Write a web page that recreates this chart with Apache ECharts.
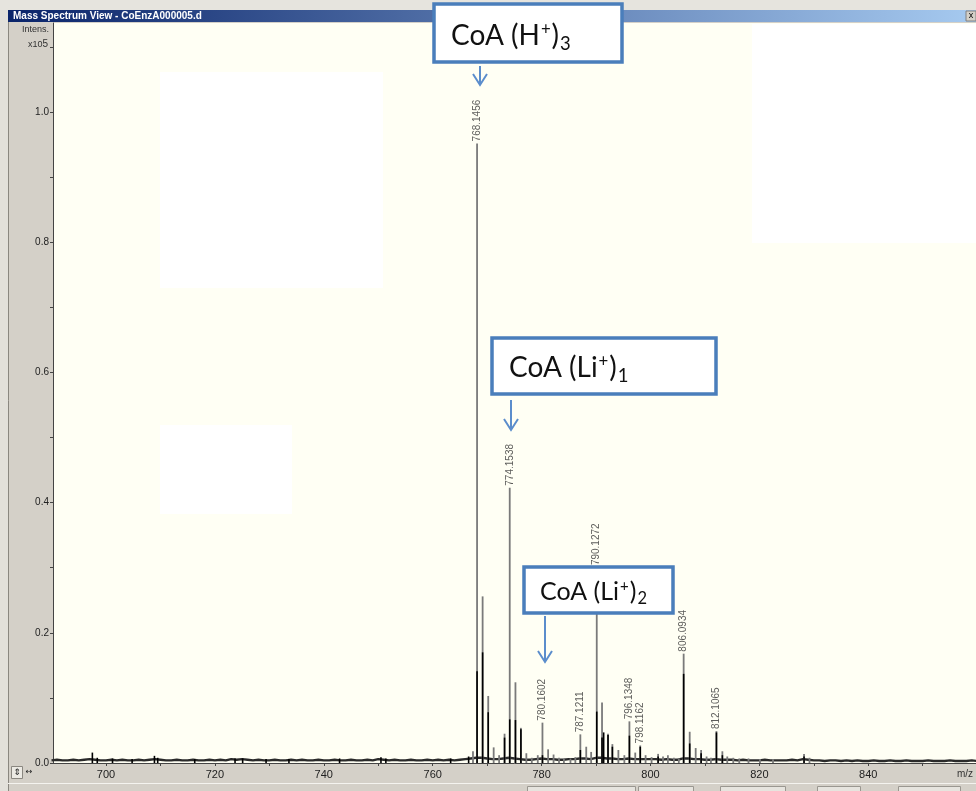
<!DOCTYPE html>
<html><head><meta charset="utf-8">
<script src="https://cdn.jsdelivr.net/npm/echarts@6/dist/echarts.min.js"></script>
<style>html,body{margin:0;padding:0;background:#D4D0C8}#c{width:976px;height:791px}</style>
</head><body><div id="c"></div>
<script>
// ---------------- data ----------------
const windowTitle = 'Mass Spectrum View - CoEnzA000005.d';
const xLabelValues = [700, 720, 740, 760, 780, 800, 820, 840];
const xTickValues = [700, 710, 720, 730, 740, 750, 760, 770, 780, 790, 800, 810, 820, 830, 840, 850];
const yLabelValues = [0, 0.2, 0.4, 0.6, 0.8, 1.0];
const yTickValues = [0, 0.1, 0.2, 0.3, 0.4, 0.5, 0.6, 0.7, 0.8, 0.9, 1.0, 1.1];

// baseline noise, one value per m/z unit starting at 690 (x10^5 intensity)
const baselineStartMz = 690;
const baselineNoise = [
  0.004,0.005,0.004,0.004,0.005,0.004,0.005,0.006,0.005,0.004,
  0.004,0.005,0.004,0.005,0.004,0.004,0.005,0.004,0.005,0.006,
  0.005,0.004,0.004,0.005,0.004,0.004,0.005,0.004,0.004,0.005,
  0.004,0.005,0.004,0.006,0.005,0.006,0.005,0.004,0.005,0.004,
  0.004,0.005,0.004,0.004,0.005,0.004,0.005,0.004,0.004,0.005,
  0.004,0.004,0.005,0.004,0.004,0.005,0.004,0.004,0.005,0.004,
  0.006,0.005,0.004,0.005,0.004,0.004,0.005,0.004,0.004,0.005,
  0.004,0.005,0.004,0.005,0.004,0.005,0.006,0.007,0.008,0.008,
  0.007,0.006,0.006,0.007,0.008,0.007,0.006,0.005,0.005,0.006,
  0.007,0.006,0.006,0.005,0.005,0.006,0.006,0.007,0.007,0.006,
  0.008,0.008,0.007,0.007,0.006,0.006,0.007,0.006,0.006,0.006,
  0.006,0.006,0.005,0.006,0.005,0.005,0.007,0.007,0.006,0.006,
  0.005,0.005,0.006,0.005,0.005,0.005,0.004,0.005,0.004,0.004,
  0.004,0.005,0.004,0.004,0.004,0.004,0.005,0.004,0.006,0.005,
  0.004,0.004,0.003,0.004,0.004,0.003,0.004,0.003,0.004,0.003,
  0.003,0.004,0.003,0.003,0.004,0.003,0.003,0.004,0.003,0.003,
  0.003,0.004,0.003,0.003,0.003,0.004,0.003,0.003,0.003,0.004,0.003
];

// profile trace (grey) peaks [m/z, intensity x10^5]
const profilePeaks = [
  [767.4,0.018],[768.15,0.952],[769.17,0.256],[770.2,0.103],[771.2,0.024],[772.2,0.012],
  [773.2,0.045],[774.15,0.423],[775.2,0.124],[776.2,0.054],[777.2,0.015],[778.2,0.008],
  [779.3,0.012],[780.16,0.062],[781.2,0.021],[782.2,0.013],[783.2,0.008],[784.1,0.006],
  [785.3,0.007],[786.2,0.009],[787.12,0.044],[788.2,0.025],[789.1,0.017],[790.13,0.301],
  [791.1,0.093],[792.2,0.045],[793.0,0.029],[794.1,0.020],[795.2,0.012],[796.13,0.064],
  [797.2,0.016],[798.12,0.027],[799.1,0.012],[800.2,0.009],[801.4,0.014],[802.3,0.010],
  [803.2,0.012],[804.3,0.008],[805.2,0.007],[806.09,0.168],[807.2,0.048],[808.3,0.023],
  [809.3,0.020],[810.3,0.010],[811.1,0.008],[812.11,0.049],[813.2,0.018],[814.1,0.010],
  [815.2,0.008],[816.3,0.007],[818.0,0.007],[820.1,0.006],[822.5,0.006],[828.2,0.014],
  [829.2,0.008]
];

// second (black) trace peaks [m/z, intensity x10^5]
const centroidPeaks = [
  [697.5,0.016],[698.4,0.008],[701.2,0.007],[704.8,0.006],[708.9,0.011],[709.5,0.008],
  [716.3,0.006],[723.7,0.007],[725.1,0.007],[729.4,0.006],[733.6,0.006],[742.9,0.007],
  [750.5,0.009],[751.4,0.007],[763.3,0.007],[766.6,0.010],
  [768.15,0.141],[769.17,0.170],[770.2,0.078],[773.2,0.039],[774.15,0.067],[775.2,0.066],
  [776.2,0.052],[780.16,0.012],[787.12,0.020],[790.13,0.079],[791.1,0.039],[791.4,0.047],
  [792.2,0.043],[793.0,0.025],[796.13,0.042],[798.12,0.025],[801.4,0.010],[806.09,0.137],
  [807.2,0.030],[809.3,0.015],[812.11,0.047],[813.2,0.012],[828.2,0.010]
];

// labelled peaks [m/z, intensity x10^5]
const labelledPeaks = [
  [768.1456,0.952],[774.1538,0.423],[780.1602,0.062],[787.1211,0.044],[790.1272,0.301],
  [796.1348,0.064],[798.1162,0.027],[806.0934,0.168],[812.1065,0.049]
];

// call-out annotations: text pieces
const annotations = [
  {main: 'CoA (H', sup: '+', close: ')', sub: '3'},
  {main: 'CoA (Li', sup: '+', close: ')', sub: '1'},
  {main: 'CoA (Li', sup: '+', close: ')', sub: '2'}
];

// ---------------- layout / styling ----------------
const calloutLayout = [
  {box: [434, 4, 188, 58], textX: 451, textY: 36, size: 28, arrowX: 480, arrowY: [66, 85]},
  {box: [492, 338, 224, 56], textX: 509, textY: 368, size: 28, arrowX: 511, arrowY: [400, 430]},
  {box: [524, 567, 149, 46], textX: 540, textY: 592, size: 25, arrowX: 545, arrowY: [616, 662]}
];

const baselineData = baselineNoise.map((v, i) => [baselineStartMz + i, v]);

function stickRenderer(color, width) {
  return function (params, api) {
    const p0 = api.coord([api.value(0), 0]);
    const p1 = api.coord([api.value(0), api.value(1)]);
    return {
      type: 'line',
      shape: {x1: p0[0], y1: p0[1], x2: p1[0], y2: p1[1]},
      style: {stroke: color, lineWidth: width}
    };
  };
}

const graphics = [];
// outer window chrome
graphics.push({type: 'rect', z: 0, shape: {x: 0, y: 0, width: 976, height: 10}, style: {fill: '#E6E4DE'}, silent: true});
graphics.push({type: 'rect', z: 0, shape: {x: 0, y: 10, width: 8, height: 781}, style: {fill: '#E2E0DA'}, silent: true});
graphics.push({type: 'line', z: 0, shape: {x1: 8.5, y1: 10, x2: 8.5, y2: 791}, style: {stroke: '#8A8780', lineWidth: 1}, silent: true});
graphics.push({type: 'rect', z: 0, shape: {x: 8, y: 10, width: 968, height: 12},
  style: {fill: new echarts.graphic.LinearGradient(0, 0, 1, 0, [{offset: 0, color: '#0A246A'}, {offset: 1, color: '#A6CAF0'}])}, silent: true});
graphics.push({type: 'text', z: 1, x: 13, y: 16.5, style: {text: windowTitle, fill: '#FFFFFF', font: 'bold 10px "Liberation Sans", Arial, sans-serif', verticalAlign: 'middle'}, silent: true});
graphics.push({type: 'rect', z: 1, shape: {x: 966, y: 11, width: 10, height: 10}, style: {fill: '#D4D0C8', stroke: '#808080', lineWidth: 1}, silent: true});
graphics.push({type: 'text', z: 2, x: 971, y: 16, style: {text: 'x', fill: '#000', font: '9px "Liberation Sans", Arial', align: 'center', verticalAlign: 'middle'}, silent: true});
graphics.push({type: 'text', z: 1, x: 22, y: 30, style: {text: 'Intens.', fill: '#333', font: '9px "Liberation Sans", Arial', verticalAlign: 'middle'}, silent: true});
graphics.push({type: 'text', z: 1, x: 28, y: 44, style: {text: '{a|x10}{b|5}', rich: {a: {fontSize: 9, fontFamily: 'Liberation Sans', fill: '#333', verticalAlign: 'bottom'}, b: {fontSize: 10, fontFamily: 'Liberation Sans', fill: '#333', verticalAlign: 'top'}}, verticalAlign: 'middle'}, silent: true});
// bottom status area
graphics.push({type: 'line', z: 0, shape: {x1: 8, y1: 783.5, x2: 976, y2: 783.5}, style: {stroke: '#F4F3EF', lineWidth: 1}, silent: true});
[[527, 108], [638, 55], [720, 65], [817, 43], [898, 62]].forEach(f => {
  graphics.push({type: 'rect', z: 0, shape: {x: f[0] + 0.5, y: 786.5, width: f[1], height: 8}, style: {fill: '#E6E4DE', stroke: '#9A9790', lineWidth: 1}, silent: true});
});
graphics.push({type: 'rect', z: 0, shape: {x: 11.5, y: 766.5, width: 11, height: 12}, style: {fill: '#ECEAE4', stroke: '#8A8780', lineWidth: 1}, silent: true});
graphics.push({type: 'text', z: 1, x: 17, y: 773, style: {text: '⇕', fill: '#222', font: '9px "DejaVu Sans"', align: 'center', verticalAlign: 'middle'}, silent: true});
graphics.push({type: 'text', z: 1, x: 29, y: 772, style: {text: '↔', fill: '#222', font: '8px "DejaVu Sans"', align: 'center', verticalAlign: 'middle'}, silent: true});
graphics.push({type: 'text', z: 1, x: 957, y: 774, style: {text: 'm/z', fill: '#333', font: '10px "Liberation Sans", Arial', verticalAlign: 'middle'}, silent: true});
// white redaction blocks on plot
[[160, 72, 223, 216], [752, 24, 224, 219], [160, 425, 132, 89]].forEach(r => {
  graphics.push({type: 'rect', z: 1, shape: {x: r[0], y: r[1], width: r[2], height: r[3]}, style: {fill: '#FFFFFF'}, silent: true});
});
// call-outs
const boxBlue = '#4A7EBB';
const arrowBlue = '#5B8DCC';
annotations.forEach((a, i) => {
  const L = calloutLayout[i];
  const s = L.size;
  graphics.push({type: 'rect', z: 100, shape: {x: L.box[0], y: L.box[1], width: L.box[2], height: L.box[3]}, style: {fill: '#FFFFFF', stroke: boxBlue, lineWidth: 3.5}, silent: true});
  graphics.push({type: 'text', z: 101, x: L.textX, y: L.textY, silent: true, style: {
    text: '{m|' + a.main + '}{p|' + a.sup + '}{m|' + a.close + '}{s|' + a.sub + '}',
    verticalAlign: 'middle',
    rich: {
      m: {fontSize: s, fontFamily: 'Lato', fill: '#111', lineHeight: s * 1.2, verticalAlign: 'middle'},
      p: {fontSize: s * 0.6, fontFamily: 'Lato', fill: '#111', lineHeight: s * 1.2, verticalAlign: 'top', padding: [2, 1, 0, 1]},
      s: {fontSize: s * 0.66, fontFamily: 'Lato', fill: '#111', lineHeight: s * 1.2, verticalAlign: 'bottom', padding: [0, 0, 0, 1]}
    }
  }});
  const x = L.arrowX, y0 = L.arrowY[0], y1 = L.arrowY[1];
  graphics.push({type: 'line', z: 100, shape: {x1: x, y1: y0, x2: x, y2: y1}, style: {stroke: arrowBlue, lineWidth: 2}, silent: true});
  graphics.push({type: 'polyline', z: 100, shape: {points: [[x - 7, y1 - 11], [x, y1], [x + 7, y1 - 11]]}, style: {stroke: arrowBlue, lineWidth: 2, fill: null}, silent: true});
});

const chart = echarts.init(document.getElementById('c'), null, {renderer: 'canvas'});
chart.setOption({
  animation: false,
  backgroundColor: '#D4D0C8',
  grid: {left: 53, right: 0, top: 23, bottom: 28, show: true, backgroundColor: '#FFFFF4', borderWidth: 0, containLabel: false},
  xAxis: {
    type: 'value', min: 690.27, max: 859.78,
    axisLine: {show: true, lineStyle: {color: '#444', width: 1}},
    axisTick: {show: true, length: 3, lineStyle: {color: '#444'}, customValues: xTickValues},
    axisLabel: {show: true, customValues: xLabelValues, color: '#222', fontSize: 11, fontFamily: 'Liberation Sans', margin: 6},
    splitLine: {show: false}
  },
  yAxis: {
    type: 'value', min: 0, max: 1.137,
    axisLine: {show: true, lineStyle: {color: '#444', width: 1}},
    axisTick: {show: true, length: 3, lineStyle: {color: '#444'}, customValues: yTickValues},
    axisLabel: {show: true, customValues: yLabelValues, color: '#222', fontSize: 10, fontFamily: 'Liberation Sans', margin: 4,
      formatter: v => v.toFixed(1)},
    splitLine: {show: false}
  },
  graphic: graphics,
  series: [
    {type: 'line', data: baselineData, symbol: 'none', lineStyle: {color: '#2A2A2A', width: 2.4}, z: 3, silent: true},
    {type: 'custom', data: profilePeaks, renderItem: stickRenderer('#7A7A7A', 1.8), encode: {x: 0, y: 1}, z: 4, silent: true},
    {type: 'custom', data: centroidPeaks, renderItem: stickRenderer('#000000', 1.6), encode: {x: 0, y: 1}, z: 5, silent: true},
    {type: 'scatter', data: labelledPeaks, symbolSize: 0, z: 6, silent: true,
      label: {show: true, position: 'top', distance: 2, rotate: 90, align: 'left', verticalAlign: 'middle',
        formatter: p => p.value[0].toFixed(4), fontSize: 10, fontFamily: 'Liberation Sans', color: '#333'}}
  ]
});
</script></body></html>
